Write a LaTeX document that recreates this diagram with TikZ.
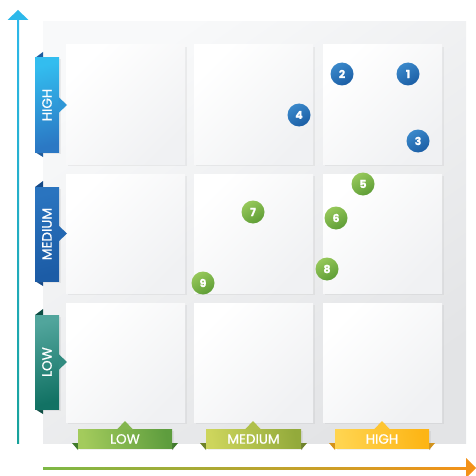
\documentclass[tikz,border=0pt]{standalone}
\usepackage{fontspec}
\setmainfont{Poppins}
\newfontfamily\ribbonfont[FakeBold=0.7]{Poppins}
\usetikzlibrary{shadows,calc}
\definecolor{bgA}{HTML}{F8F9FA}
\definecolor{bgB}{HTML}{E3E4E6}
\definecolor{cellgrey}{HTML}{F0F1F3}
\definecolor{vaxisA}{HTML}{2DB8EA}
\definecolor{vaxisB}{HTML}{17A29B}
\definecolor{haxisA}{HTML}{7DB845}
\definecolor{haxisM}{HTML}{C2A832}
\definecolor{haxisB}{HTML}{F39218}
\definecolor{yhighA}{HTML}{33BDEF}
\definecolor{yhighB}{HTML}{2B78C4}
\definecolor{yhighF}{HTML}{1E5C9E}
\definecolor{ymedA}{HTML}{2A74BF}
\definecolor{ymedB}{HTML}{1C5CA6}
\definecolor{ymedF}{HTML}{164A88}
\definecolor{ylowA}{HTML}{51A59C}
\definecolor{ylowB}{HTML}{127264}
\definecolor{ylowF}{HTML}{0D4E44}
\definecolor{xlowA}{HTML}{A3CB5C}
\definecolor{xlowB}{HTML}{5E9D3E}
\definecolor{xlowF}{HTML}{3F7A2A}
\definecolor{xmedA}{HTML}{CDD55C}
\definecolor{xmedB}{HTML}{93AA3B}
\definecolor{xmedF}{HTML}{6E8228}
\definecolor{xhighA}{HTML}{FFD44F}
\definecolor{xhighB}{HTML}{FDB515}
\definecolor{xhighF}{HTML}{D4931A}
\definecolor{dotblueA}{HTML}{3A88CA}
\definecolor{dotblueB}{HTML}{1B5EA5}
\definecolor{dotgreenA}{HTML}{96C85A}
\definecolor{dotgreenB}{HTML}{5E9D36}
\begin{document}
\begin{tikzpicture}[x=1pt,y=-1pt,
  cell box/.style={rectangle,minimum size=119pt,inner sep=0pt,top color=white,bottom color=cellgrey,shading angle=45,drop shadow={opacity=0.10,shadow xshift=2pt,shadow yshift=-2pt}},
  blue dot/.style={circle,minimum size=23pt,inner sep=0pt,top color=dotblueA,bottom color=dotblueB,shading angle=30,text=white,font=\ribbonfont\bfseries\fontsize{11}{11}\selectfont},
  green dot/.style={blue dot,top color=dotgreenA,bottom color=dotgreenB,shading angle=30},
  ribbon text/.style={text=white,inner sep=0pt,font=\ribbonfont\fontsize{13.5}{13.5}\selectfont}]
\useasboundingbox (0,0) rectangle (476,476);
\shade[top color=bgA,bottom color=bgB,shading angle=35] (43,22) rectangle (466,443);
% grid cells
\node [cell box](c11) at (125.5,104.5) {};
\node [cell box](c12) at (253.5,104.5) {};
\node [cell box](c13) at (382.5,104.5) {};
\node [cell box](c21) at (125.5,233.5) {};
\node [cell box](c22) at (253.5,233.5) {};
\node [cell box](c23) at (382.5,233.5) {};
\node [cell box](c31) at (125.5,362.5) {};
\node [cell box](c32) at (253.5,362.5) {};
\node [cell box](c33) at (382.5,362.5) {};
% axes
\coordinate (ybot) at (18,443);
\coordinate (ytop) at (18,10);
\coordinate (xleft) at (43,468);
\coordinate (xtip) at (476,468);
\shade[top color=vaxisA,bottom color=vaxisB] ($(ybot)+(-1,0)$) rectangle ($(ytop)+(1,10)$);
\fill[vaxisA] ($(ytop)+(-10.5,10)$) -- (ytop) -- ($(ytop)+(10.5,10)$) -- cycle;
\shade[left color=haxisA,middle color=haxisM,right color=haxisB] ($(xleft)+(0,-1)$) rectangle ($(xtip)+(-10,1)$);
\fill[haxisB] ($(xtip)+(-10,-10)$) -- (xtip) -- ($(xtip)+(-10,10)$) -- cycle;
% left ribbons
\fill[yhighF] (35,58) -- (43,52) -- (43,58) -- cycle;
\fill[yhighF] (35,152) -- (43,157) -- (43,152) -- cycle;
\shade[top color=yhighA,bottom color=yhighB,shading angle=15,drop shadow={opacity=0.12,shadow xshift=1.5pt,shadow yshift=-1.5pt}] (35,58) rectangle (59,152);
\fill[yhighA!45!yhighB] (58.5,97) -- (67,105) -- (58.5,113) -- cycle;
\node [ribbon text,rotate=90](yhigh) at (47,105) {HIGH};
\fill[ymedF] (35,187) -- (43,181) -- (43,187) -- cycle;
\fill[ymedF] (35,281) -- (43,286) -- (43,281) -- cycle;
\shade[top color=ymedA,bottom color=ymedB,shading angle=15,drop shadow={opacity=0.12,shadow xshift=1.5pt,shadow yshift=-1.5pt}] (35,187) rectangle (59,281);
\fill[ymedA!50!ymedB] (58.5,225.5) -- (67,233.5) -- (58.5,241.5) -- cycle;
\node [ribbon text,rotate=90](ymed) at (47,234) {MEDIUM};
\fill[ylowF] (35,315) -- (43,309) -- (43,315) -- cycle;
\fill[ylowF] (35,409) -- (43,414) -- (43,409) -- cycle;
\shade[top color=ylowA,bottom color=ylowB,shading angle=15,drop shadow={opacity=0.12,shadow xshift=1.5pt,shadow yshift=-1.5pt}] (35,315) rectangle (59,409);
\fill[ylowA!50!ylowB] (58.5,354) -- (67,362) -- (58.5,370) -- cycle;
\node [ribbon text,rotate=90](ylow) at (47,362) {LOW};
% bottom ribbons
\fill[xlowF] (72,443) -- (78,443) -- (78,450) -- cycle;
\fill[xlowF] (178,443) -- (172,443) -- (172,450) -- cycle;
\shade[left color=xlowA,right color=xlowB,shading angle=100,drop shadow={opacity=0.12,shadow xshift=1.5pt,shadow yshift=-1.5pt}] (78,429) rectangle (172,448);
\fill[xlowA!55!xlowB] (117,429.5) -- (125,421) -- (133,429.5) -- cycle;
\node [ribbon text](xlow) at (125,439) {LOW};
\fill[xmedF] (200,443) -- (206,443) -- (206,450) -- cycle;
\fill[xmedF] (307,443) -- (301,443) -- (301,450) -- cycle;
\shade[left color=xmedA,right color=xmedB,shading angle=100,drop shadow={opacity=0.12,shadow xshift=1.5pt,shadow yshift=-1.5pt}] (206,429) rectangle (301,448);
\fill[xmedA!50!xmedB] (245,429.5) -- (253,421) -- (261,429.5) -- cycle;
\node [ribbon text](xmed) at (253.5,439) {MEDIUM};
\fill[xhighF] (329,443) -- (335,443) -- (335,450) -- cycle;
\fill[xhighF] (435,443) -- (429,443) -- (429,450) -- cycle;
\shade[left color=xhighA,right color=xhighB,shading angle=100,drop shadow={opacity=0.12,shadow xshift=1.5pt,shadow yshift=-1.5pt}] (335,429) rectangle (429,448);
\fill[xhighA!50!xhighB] (374,429.5) -- (382,421) -- (390,429.5) -- cycle;
\node [ribbon text](xhigh) at (382,439) {HIGH};
% risk dots
\node [blue dot](d1) at (408,74) {1};
\node [blue dot](d2) at (342,74) {2};
\node [blue dot](d3) at (418,141) {3};
\node [blue dot](d4) at (299,115) {4};
\node [green dot](d5) at (363,184) {5};
\node [green dot](d6) at (336,218) {6};
\node [green dot](d7) at (253,212) {7};
\node [green dot](d8) at (327,269) {8};
\node [green dot](d9) at (203,283) {9};
\end{tikzpicture}
\end{document}
